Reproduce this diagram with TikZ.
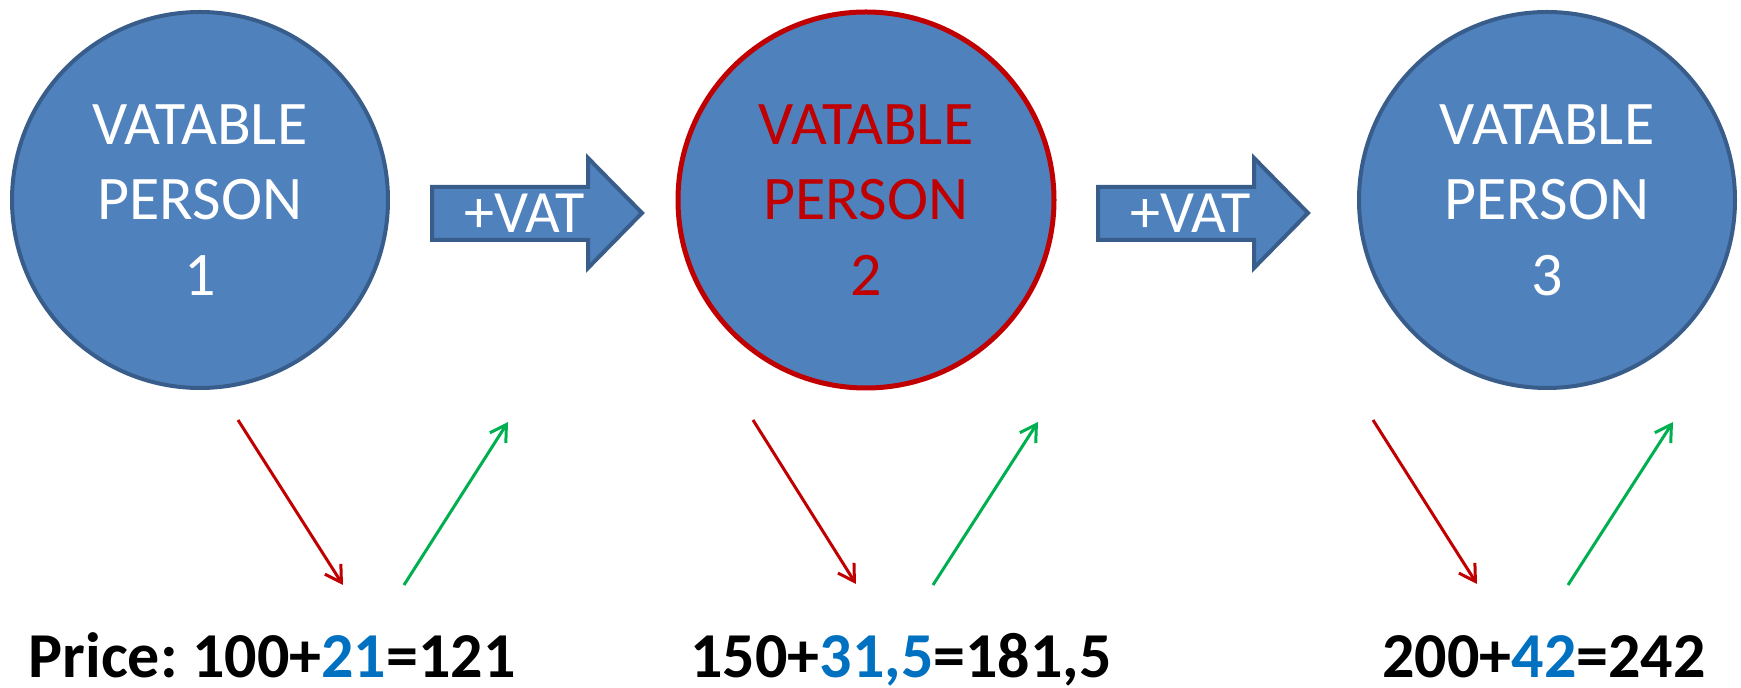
\documentclass[tikz,border=0pt]{standalone}
\usepackage{fontspec}
\setmainfont{Carlito}
\usetikzlibrary{arrows.meta}
\definecolor{vatfill}{HTML}{4F81BD}
\definecolor{vatline}{HTML}{385D8A}
\definecolor{vatred}{HTML}{C00000}
\definecolor{vatgreen}{HTML}{00B050}
\definecolor{vatblue}{HTML}{0070C0}
\frenchspacing
\begin{document}
\begin{tikzpicture}[x=0.5pt,y=-0.5pt,
    person/.style={circle, fill=vatfill, draw=vatline, line width=2pt, minimum size=188pt, inner sep=0pt,
        text=white, align=center, font=\fontsize{31}{37.75}\selectfont},
    fatarrow/.style={fill=vatfill, draw=vatline, line width=2pt, line join=miter},
    vatlabel/.style={text=white, font=\fontsize{30}{36}\selectfont},
    price/.style={anchor=base, font=\bfseries\fontsize{32}{38}\selectfont},
    outflow/.style={vatred, line width=1.5pt, -{Straight Barb[length=8pt,width=9.5pt]}},
    inflow/.style={vatgreen, line width=1.5pt, -{Straight Barb[length=8pt,width=9.5pt]}}]

        \useasboundingbox (0,0) rectangle (1741,688);

        % the three persons
        \node [person] (p1) at (200,200) {VATABLE\\PERSON\\1};
        \node [person, draw=vatred, line width=2.5pt, text=vatred] (p2) at (866,200) {VATABLE\\PERSON\\2};
        \node [person] (p3) at (1547,200) {VATABLE\\PERSON\\3};

        % +VAT arrows
        \draw [fatarrow] (432,187) -- (588,187) -- (588,158) -- (642,213) -- (588,268) -- (588,240) -- (432,240) -- cycle;
        \draw [fatarrow] (1098,187) -- (1254,187) -- (1254,158) -- (1308,213) -- (1254,268) -- (1254,240) -- (1098,240) -- cycle;
        \node [vatlabel] (vat1) at (525,213) {+VAT};
        \node [vatlabel] (vat2) at (1191,213) {+VAT};

        % prices
        \node [price] (price1) at (272,678) {Price: 100+\textcolor{vatblue}{21}=121};
        \node [price] (price2) at (901,678) {150+\textcolor{vatblue}{31,5}=181,5};
        \node [price] (price3) at (1544,678) {200+\textcolor{vatblue}{42}=242};

        % money flows
        \coordinate (r1a) at (238,420);   \coordinate (r1b) at (343,585);
        \coordinate (g1a) at (404,585);   \coordinate (g1b) at (508,422);
        \coordinate (r2a) at (753,420);   \coordinate (r2b) at (856,584);
        \coordinate (g2a) at (933,585);   \coordinate (g2b) at (1038,422);
        \coordinate (r3a) at (1373,420);  \coordinate (r3b) at (1477,584);
        \coordinate (g3a) at (1568,585);  \coordinate (g3b) at (1673,422);

        \draw [outflow] (r1a) -- (r1b);
        \draw [inflow] (g1a) -- (g1b);
        \draw [outflow] (r2a) -- (r2b);
        \draw [inflow] (g2a) -- (g2b);
        \draw [outflow] (r3a) -- (r3b);
        \draw [inflow] (g3a) -- (g3b);
\end{tikzpicture}
\end{document}
